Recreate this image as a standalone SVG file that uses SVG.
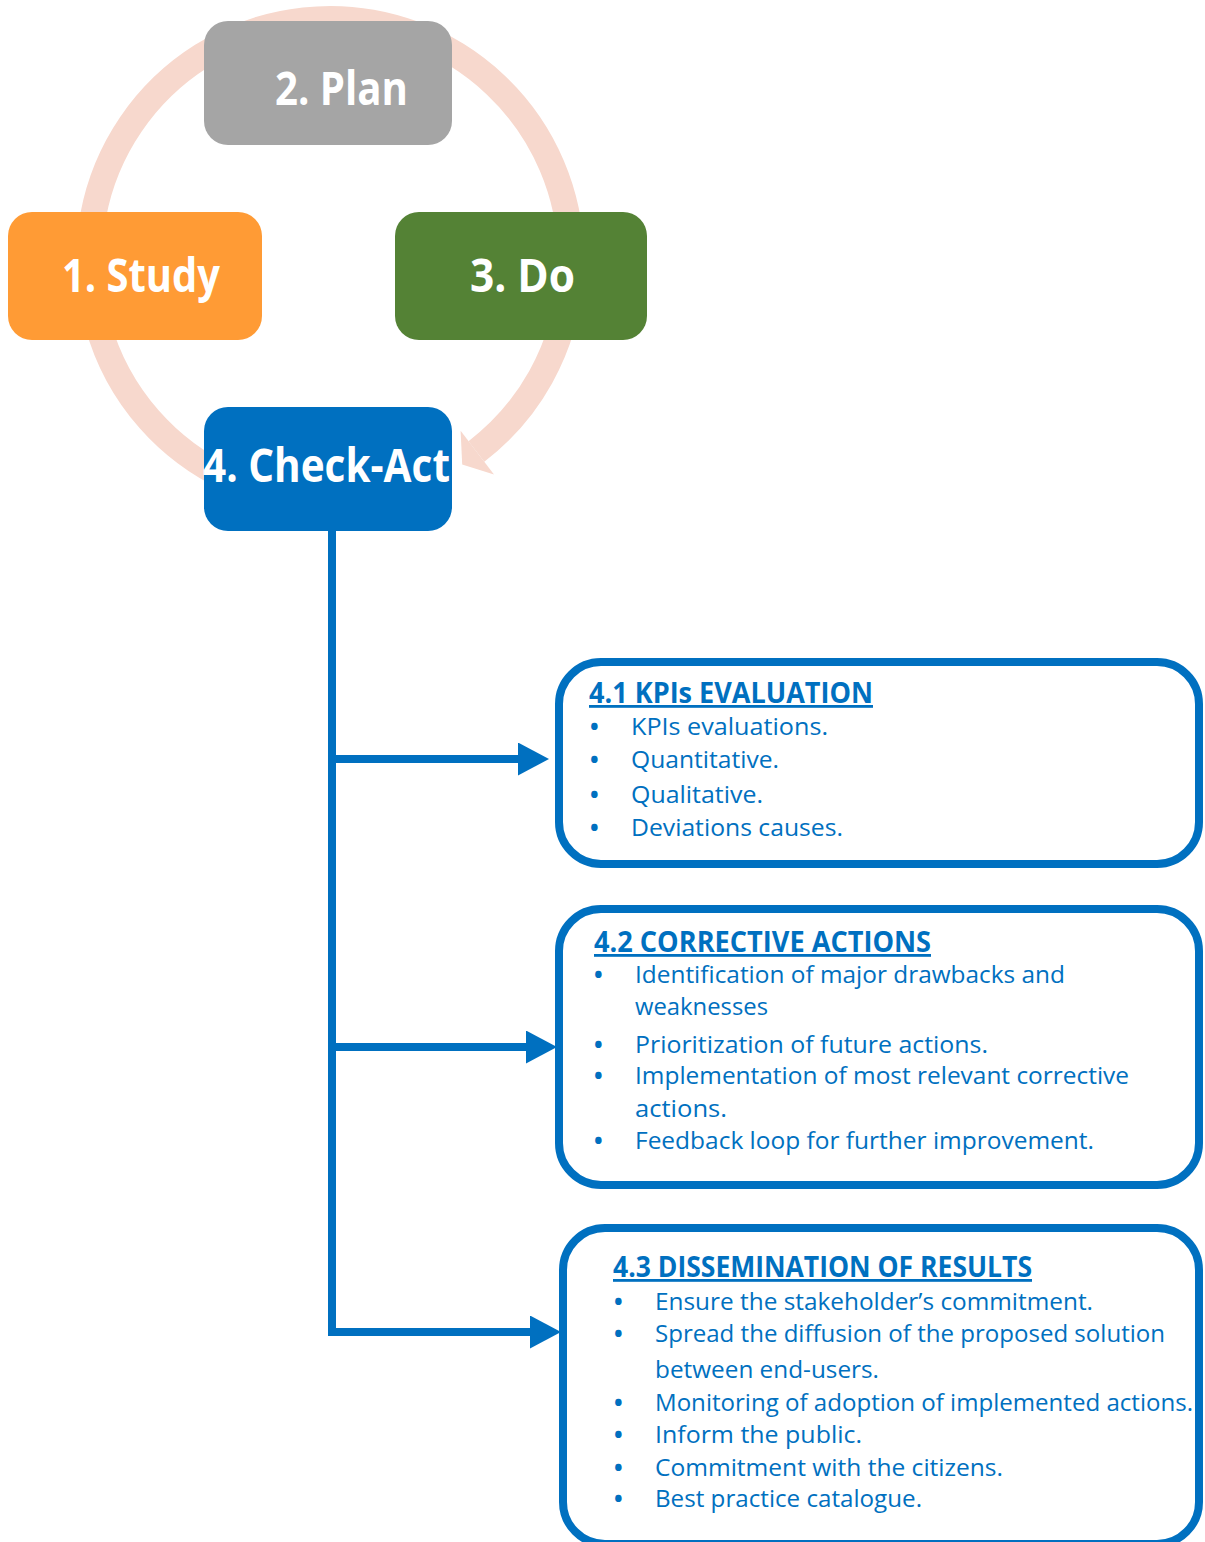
<svg xmlns="http://www.w3.org/2000/svg" width="1205" height="1542" viewBox="0 0 1205 1542">
<style>
.node-label{font-family:"Open Sans","Liberation Sans",sans-serif;font-weight:bold;font-size:46px;fill:#FFFFFF}
.title{font-family:"Open Sans","Liberation Sans",sans-serif;font-weight:bold;font-size:28px;fill:#0070C0;text-decoration:underline}
.item{font-family:"Open Sans","Liberation Sans",sans-serif;font-size:23px;fill:#0070C0}
.bullet{font-weight:bold}
.box{fill:#FFFFFF;stroke:#0070C0;stroke-width:8}
.conn{fill:none;stroke:#0070C0;stroke-width:8}
.ring{fill:none;stroke:#F7D8CD;stroke-width:26}
</style>
<defs>
<marker id="arrow" viewBox="0 0 31 33" refX="0" refY="16.5" markerWidth="31" markerHeight="33" markerUnits="userSpaceOnUse" orient="auto">
<path d="M0,0 L31,16.5 L0,33 Z" fill="#0070C0"/>
</marker>
</defs>
<rect width="1205" height="1542" fill="#FFFFFF"/>

<g id="cycle">
<path class="ring" d="M228.1 478.4 A241 241 0 1 1 476.4 451.5"/>
<polygon points="460.6,430.8 462.2,464.5 494,474.5" fill="#F7D8CD"/>
</g>

<g id="connectors">
<path class="conn" d="M332 530 V1336"/>
<path class="conn" d="M332 759 H518" marker-end="url(#arrow)"/>
<path class="conn" d="M332 1047 H526" marker-end="url(#arrow)"/>
<path class="conn" d="M332 1332 H530" marker-end="url(#arrow)"/>
</g>

<g id="node-plan">
<rect x="204" y="21" width="248" height="124" rx="24" fill="#A5A5A5"/>
<text class="node-label" x="275" y="105" textLength="133" lengthAdjust="spacingAndGlyphs">2. Plan</text>
</g>
<g id="node-study">
<rect x="8" y="212" width="254" height="128" rx="24" fill="#FF9B35"/>
<text class="node-label" x="62" y="292" textLength="158" lengthAdjust="spacingAndGlyphs">1. Study</text>
</g>
<g id="node-do">
<rect x="395" y="212" width="252" height="128" rx="24" fill="#548235"/>
<text class="node-label" x="470" y="292" textLength="105" lengthAdjust="spacingAndGlyphs">3. Do</text>
</g>
<g id="node-check-act">
<rect x="204" y="407" width="248" height="124" rx="24" fill="#0070C0"/>
<text class="node-label" x="203" y="482" textLength="247" lengthAdjust="spacingAndGlyphs">4. Check-Act</text>
</g>

<g id="node-kpis">
<rect class="box" x="559" y="662" width="640" height="202" rx="42"/>
<text class="title" x="589" y="703" textLength="284" lengthAdjust="spacingAndGlyphs">4.1 KPIs EVALUATION</text>
<text class="item" y="735"><tspan class="bullet" x="590">•</tspan><tspan x="631" textLength="197" lengthAdjust="spacingAndGlyphs">KPIs evaluations.</tspan></text>
<text class="item" y="768"><tspan class="bullet" x="590">•</tspan><tspan x="631" textLength="148" lengthAdjust="spacingAndGlyphs">Quantitative.</tspan></text>
<text class="item" y="803"><tspan class="bullet" x="590">•</tspan><tspan x="631" textLength="132" lengthAdjust="spacingAndGlyphs">Qualitative.</tspan></text>
<text class="item" y="836"><tspan class="bullet" x="590">•</tspan><tspan x="631" textLength="212" lengthAdjust="spacingAndGlyphs">Deviations causes.</tspan></text>
</g>

<g id="node-corrective">
<rect class="box" x="559" y="909" width="640" height="276" rx="42"/>
<text class="title" x="594" y="952" textLength="337" lengthAdjust="spacingAndGlyphs">4.2 CORRECTIVE ACTIONS</text>
<text class="item" y="983"><tspan class="bullet" x="594">•</tspan><tspan x="635" textLength="430" lengthAdjust="spacingAndGlyphs">Identification of major drawbacks and</tspan></text>
<text class="item" x="635" y="1015" textLength="133" lengthAdjust="spacingAndGlyphs">weaknesses</text>
<text class="item" y="1053"><tspan class="bullet" x="594">•</tspan><tspan x="635" textLength="353" lengthAdjust="spacingAndGlyphs">Prioritization of future actions.</tspan></text>
<text class="item" y="1084"><tspan class="bullet" x="594">•</tspan><tspan x="635" textLength="494" lengthAdjust="spacingAndGlyphs">Implementation of most relevant corrective</tspan></text>
<text class="item" x="635" y="1117" textLength="92" lengthAdjust="spacingAndGlyphs">actions.</text>
<text class="item" y="1149"><tspan class="bullet" x="594">•</tspan><tspan x="635" textLength="459" lengthAdjust="spacingAndGlyphs">Feedback loop for further improvement.</tspan></text>
</g>

<g id="node-dissemination">
<rect class="box" x="563" y="1228" width="636" height="316" rx="42"/>
<text class="title" x="613" y="1277" textLength="419" lengthAdjust="spacingAndGlyphs">4.3 DISSEMINATION OF RESULTS</text>
<text class="item" y="1310"><tspan class="bullet" x="614">•</tspan><tspan x="655" textLength="438" lengthAdjust="spacingAndGlyphs">Ensure the stakeholder’s commitment.</tspan></text>
<text class="item" y="1342"><tspan class="bullet" x="614">•</tspan><tspan x="655" textLength="510" lengthAdjust="spacingAndGlyphs">Spread the diffusion of the proposed solution</tspan></text>
<text class="item" x="655" y="1378" textLength="224" lengthAdjust="spacingAndGlyphs">between end-users.</text>
<text class="item" y="1411"><tspan class="bullet" x="614">•</tspan><tspan x="655" textLength="538" lengthAdjust="spacingAndGlyphs">Monitoring of adoption of implemented actions.</tspan></text>
<text class="item" y="1443"><tspan class="bullet" x="614">•</tspan><tspan x="655" textLength="207" lengthAdjust="spacingAndGlyphs">Inform the public.</tspan></text>
<text class="item" y="1476"><tspan class="bullet" x="614">•</tspan><tspan x="655" textLength="348" lengthAdjust="spacingAndGlyphs">Commitment with the citizens.</tspan></text>
<text class="item" y="1507"><tspan class="bullet" x="614">•</tspan><tspan x="655" textLength="267" lengthAdjust="spacingAndGlyphs">Best practice catalogue.</tspan></text>
</g>
</svg>
